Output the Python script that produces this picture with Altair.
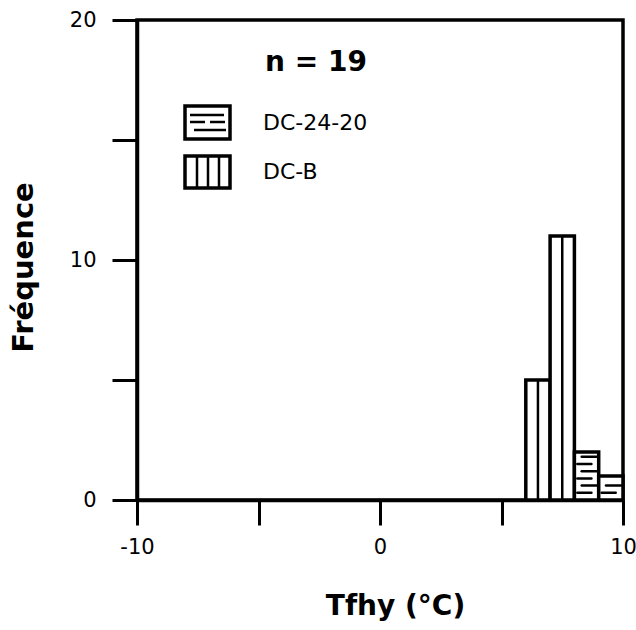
import altair as alt
import pandas as pd

# Histogram of homogenization temperatures (Tfhy), one-degree bins
bin_lo = [6, 7, 8, 9]
bin_hi = [7, 8, 9, 10]
freq = [5, 11, 2, 1]
sample = ["DC-B", "DC-B", "DC-24-20", "DC-24-20"]

x_ticks = [-10, -5, 0, 5, 10]
y_ticks = [0, 5, 10, 15, 20]

FONT = "DejaVu Sans"
INK = "black"

bars = pd.DataFrame({"lo": bin_lo, "hi": bin_hi, "freq": freq, "sample": sample})

# horizontal hatch segments for the DC-24-20 bins
step = 0.3
rows = []
for lo, hi, f, s in zip(bin_lo, bin_hi, freq, sample):
    if s != "DC-24-20":
        continue
    k = 1
    while k * step < f - 0.12:
        if k % 2:
            rows.append({"x": lo + 0.12, "x2": hi - 0.3, "y": k * step})
        else:
            rows.append({"x": lo + 0.3, "x2": hi - 0.08, "y": k * step})
        k += 1
hatch_h = pd.DataFrame(rows)

x_scale = alt.Scale(domain=[-10, 10], nice=False, zero=False)
y_scale = alt.Scale(domain=[0, 20], nice=False)

x_axis = alt.Axis(
    values=x_ticks,
    labelExpr="datum.value % 10 == 0 ? (datum.value < 0 ? '-' + abs(datum.value) : datum.label) : ''",
    tickSize=25, tickWidth=3, tickColor=INK,
    domainWidth=3.5, domainColor=INK,
    labelFont=FONT, labelFontSize=21, labelColor=INK, labelPadding=11,
    labelFlush=False, labelOverlap=False,
    grid=False,
    title="Tfhy (°C)", titleFont=FONT, titleFontSize=28, titleFontWeight="bold",
    titleColor=INK, titleX=258, titleY=106, titleBaseline="middle",
)
y_axis = alt.Axis(
    values=y_ticks,
    labelExpr="datum.value % 10 == 0 ? datum.label : ''",
    tickSize=25, tickWidth=3, tickColor=INK,
    domainWidth=3.5, domainColor=INK,
    labelFont=FONT, labelFontSize=21, labelColor=INK, labelPadding=16,
    labelFlush=False, labelOverlap=False,
    grid=False,
    title="Fréquence", titleFont=FONT, titleFontSize=29, titleFontWeight="bold",
    titleColor=INK, titleAngle=-90, titleX=-114, titleY=247, titleBaseline="middle",
    titleAlign="center",
)

base = alt.Chart(bars)

rects = base.mark_rect(fill="white", stroke=INK, strokeWidth=3.5).encode(
    x=alt.X("lo:Q", scale=x_scale, axis=x_axis),
    x2="hi:Q",
    y=alt.Y("freq:Q", scale=y_scale, axis=y_axis),
    y2=alt.datum(0),
)

# vertical hatch: one line through the middle of each DC-B bin
vlines = base.transform_filter(alt.datum.sample == "DC-B").transform_calculate(
    mid="(datum.lo + datum.hi) / 2"
).mark_rule(color=INK, strokeWidth=2.5).encode(
    x=alt.X("mid:Q", scale=x_scale),
    y=alt.Y("freq:Q", scale=y_scale),
    y2=alt.datum(0),
)

hlines = alt.Chart(hatch_h).mark_rule(color=INK, strokeWidth=2.5, strokeCap="round").encode(
    x=alt.X("x:Q", scale=x_scale),
    x2="x2:Q",
    y=alt.Y("y:Q", scale=y_scale),
)

one = pd.DataFrame({"k": [0]})


def text(label, px, py, size, weight="normal", align="left"):
    return alt.Chart(one).mark_text(
        text=label, font=FONT, fontSize=size, fontWeight=weight, color=INK,
        align=align, baseline="middle",
    ).encode(x=alt.value(px), y=alt.value(py))


def seg(x1, y1, x2, y2, w=2.5):
    return alt.Chart(one).mark_rule(color=INK, strokeWidth=w).encode(
        x=alt.value(x1), x2=alt.value(x2), y=alt.value(y1), y2=alt.value(y2)
    )


def box(x1, y1, x2, y2):
    return alt.Chart(one).mark_rect(fill="white", stroke=INK, strokeWidth=3.5).encode(
        x=alt.value(x1), x2=alt.value(x2), y=alt.value(y1), y2=alt.value(y2)
    )


legend = [
    text("n = 19", 179, 43, 28, "bold", "center"),
    box(48, 86, 93, 119),
    seg(53, 95, 87, 95),
    seg(53, 102, 68, 102),
    seg(73, 102, 88, 102),
    seg(57, 110, 89, 110),
    text("DC-24-20", 126, 103, 22),
    box(48, 136, 93, 168),
    seg(60, 136, 60, 168),
    seg(71, 136, 71, 168),
    seg(82, 136, 82, 168),
    text("DC-B", 126, 152, 22),
]

chart = alt.layer(rects, vlines, hlines, *legend).properties(
    width=486,
    height=480,
    padding={"left": 137, "top": 20, "right": 13, "bottom": 130},
    autosize=alt.AutoSizeParams(type="none"),
    background="white",
).configure_view(stroke=INK, strokeWidth=3.5)

chart.save("out.html", embed_options={"renderer": "svg", "actions": False})
